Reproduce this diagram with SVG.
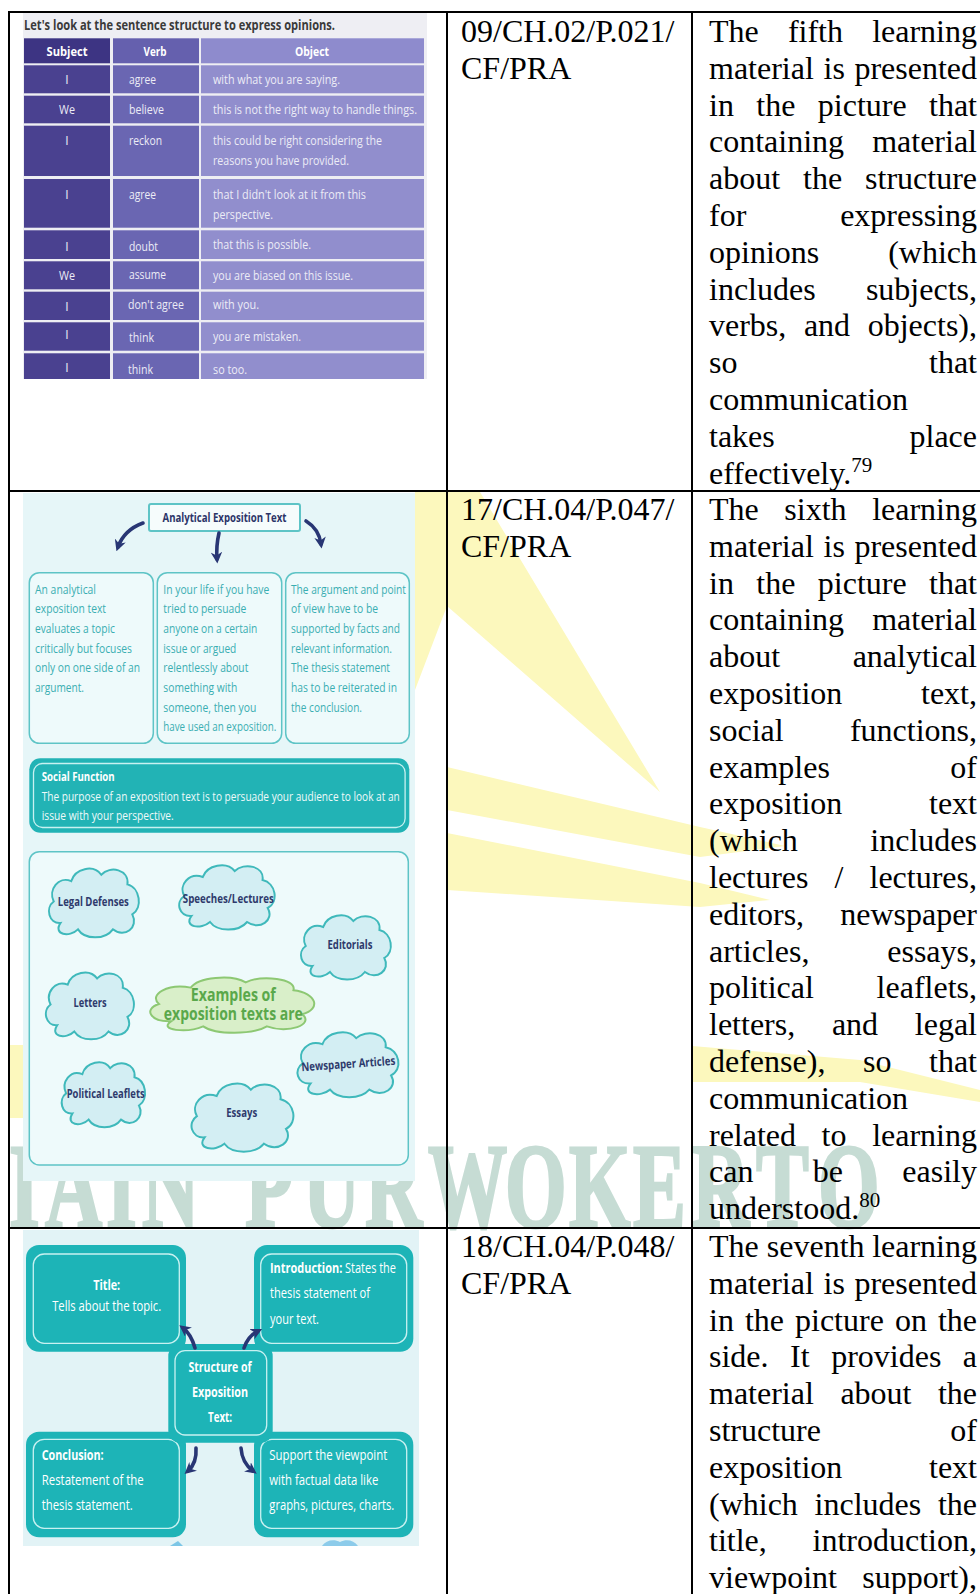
<svg xmlns="http://www.w3.org/2000/svg" xmlns:xlink="http://www.w3.org/1999/xlink" width="980" height="1594" viewBox="0 0 980 1594">
<defs>
<style>
.body{font-family:"Liberation Serif","Times New Roman",serif;font-size:32px;fill:#000}
.r{text-anchor:end}
.sup{font-size:21px}
.grid{stroke:#000;stroke-width:2;fill:none}
.sans{font-family:"Open Sans","Liberation Sans",Arial,sans-serif}
.ray{fill:#fcf8bd}
.wm{font-family:"Liberation Serif","Times New Roman",serif;font-weight:bold;font-size:120px;fill:#c6dcd4;stroke:#c6dcd4;stroke-width:3}
.p1t{font-size:14px;font-weight:bold;fill:#3a3a3a}
.p1h{font-size:13px;font-weight:bold;fill:#fff;text-anchor:middle}
.p1c{font-size:12px;fill:#ececf6}
.p1m{text-anchor:middle}
.sH{fill:#3d3483}.vH{fill:#6560ae}.oH{fill:#8e8bcd}
.sC{fill:#4a4190}.vC{fill:#6a66b2}.oC{fill:#918ecd}
.bx{fill:#eefafb;stroke:#5ec4c6;stroke-width:1.5}
.bxt{font-size:12px;fill:#3aaeb2}
.nav{fill:#2c3568}
.arr{fill:none;stroke:#283674;stroke-width:3.6;stroke-linecap:round}
.cl{fill:#d3eef3;stroke:#3fb9bb;stroke-width:2}
.clg{fill:#d9efc9;stroke:#8dc873;stroke-width:2}
.clt{font-size:12px;font-weight:bold;fill:#2e3a6c;text-anchor:middle}
.ext{font-size:17px;font-weight:bold;fill:#5aa84b;text-anchor:middle}
.tl{fill:#1db4b7}
.tin{fill:none;stroke:#c8f1f1;stroke-width:1.3}
.wt{font-size:14.5px;fill:#fff}
.b{font-weight:bold}
</style>
<path id="cloud" vector-effect="non-scaling-stroke" d="M16,56 C4,57 0,42 9,36 C3,25 14,12 27,17 C31,5 50,1 58,11 C67,2 87,6 85,20 C98,23 101,42 90,48 C97,60 82,71 70,62 C62,72 41,72 34,62 C25,70 8,67 16,56 Z"/>
<marker id="ah" viewBox="0 0 10 10" refX="6" refY="5" markerWidth="3.2" markerHeight="3.2" orient="auto">
<path d="M0,0 L10,5 L0,10 L3,5 Z" fill="#283674"/>
</marker>
</defs>

<rect width="980" height="1594" fill="#fff"/>

<g id="watermark">
<polygon class="ray" points="415,492 480,492 660,792 447,606 415,690"/>
<polygon class="ray" points="447,767 700,827 785,846 700,857 447,810"/>
<polygon class="ray" points="447,833 700,883 770,900 700,907 447,890"/>
<polygon class="ray" points="692,1046 860,1060 980,1090 980,1102 860,1082 692,1082"/>
<polygon class="ray" points="9,1045 23,1045 23,1118 9,1118"/>
<text class="wm" transform="scale(0.66,1)" y="1227" x="13.6 68.2 160.6 215.2 300 371.2 459.1 553 648.5 765.2 862.1 959.1 1048.5 1145.5 1239.4">IAIN PURWOKERTO</text>
</g>

<g id="grid">
<line class="grid" x1="8" y1="12" x2="980" y2="12"/>
<line class="grid" x1="9" y1="11" x2="9" y2="1594"/>
<line class="grid" x1="447" y1="11" x2="447" y2="1594"/>
<line class="grid" x1="692" y1="11" x2="692" y2="1594"/>
<line class="grid" x1="8" y1="491" x2="980" y2="491"/>
<line class="grid" x1="8" y1="1228" x2="980" y2="1228"/>
</g>

<g id="picture1" class="sans">
<rect x="23" y="13" width="404" height="366" fill="#eeeef3"/>
<text class="p1t" x="24" y="30" textLength="311" lengthAdjust="spacingAndGlyphs">Let's look at the sentence structure to express opinions.</text>
<rect class="sH" x="24" y="38.3" width="86" height="25"/>
<rect class="vH" x="113" y="38.3" width="86" height="25"/>
<rect class="oH" x="201" y="38.3" width="223" height="25"/>
<g>
<rect class="sC" x="24" y="65.3" width="86" height="28"/><rect class="vC" x="113" y="65.3" width="86" height="28"/><rect class="oC" x="201" y="65.3" width="223" height="28"/>
<rect class="sC" x="24" y="95.7" width="86" height="27.6"/><rect class="vC" x="113" y="95.7" width="86" height="27.6"/><rect class="oC" x="201" y="95.7" width="223" height="27.6"/>
<rect class="sC" x="24" y="125.7" width="86" height="50.3"/><rect class="vC" x="113" y="125.7" width="86" height="50.3"/><rect class="oC" x="201" y="125.7" width="223" height="50.3"/>
<rect class="sC" x="24" y="179" width="86" height="48.7"/><rect class="vC" x="113" y="179" width="86" height="48.7"/><rect class="oC" x="201" y="179" width="223" height="48.7"/>
<rect class="sC" x="24" y="230.3" width="86" height="28.7"/><rect class="vC" x="113" y="230.3" width="86" height="28.7"/><rect class="oC" x="201" y="230.3" width="223" height="28.7"/>
<rect class="sC" x="24" y="261.3" width="86" height="28"/><rect class="vC" x="113" y="261.3" width="86" height="28"/><rect class="oC" x="201" y="261.3" width="223" height="28"/>
<rect class="sC" x="24" y="291.7" width="86" height="28.3"/><rect class="vC" x="113" y="291.7" width="86" height="28.3"/><rect class="oC" x="201" y="291.7" width="223" height="28.3"/>
<rect class="sC" x="24" y="322.3" width="86" height="28.4"/><rect class="vC" x="113" y="322.3" width="86" height="28.4"/><rect class="oC" x="201" y="322.3" width="223" height="28.4"/>
<rect class="sC" x="24" y="353.3" width="86" height="25.7"/><rect class="vC" x="113" y="353.3" width="86" height="25.7"/><rect class="oC" x="201" y="353.3" width="223" height="25.7"/>
</g>
<text class="p1h" x="67" y="56" textLength="41" lengthAdjust="spacingAndGlyphs">Subject</text>
<text class="p1h" x="155" y="56" textLength="23" lengthAdjust="spacingAndGlyphs">Verb</text>
<text class="p1h" x="312" y="56" textLength="34" lengthAdjust="spacingAndGlyphs">Object</text>
<g class="p1c">
<text class="p1m" x="67" y="84">I</text>
<text x="129" y="84" textLength="27" lengthAdjust="spacingAndGlyphs">agree</text>
<text x="213" y="84" textLength="127" lengthAdjust="spacingAndGlyphs">with what you are saying.</text>
<text class="p1m" x="67" y="114" textLength="16" lengthAdjust="spacingAndGlyphs">We</text>
<text x="129" y="114" textLength="35" lengthAdjust="spacingAndGlyphs">believe</text>
<text x="213" y="114" textLength="204" lengthAdjust="spacingAndGlyphs">this is not the right way to handle things.</text>
<text class="p1m" x="67" y="145">I</text>
<text x="129" y="145" textLength="33" lengthAdjust="spacingAndGlyphs">reckon</text>
<text x="213" y="144.5" textLength="169" lengthAdjust="spacingAndGlyphs">this could be right considering the</text>
<text x="213" y="165" textLength="136" lengthAdjust="spacingAndGlyphs">reasons you have provided.</text>
<text class="p1m" x="67" y="199">I</text>
<text x="129" y="199" textLength="27" lengthAdjust="spacingAndGlyphs">agree</text>
<text x="213" y="199" textLength="153" lengthAdjust="spacingAndGlyphs">that I didn't look at it from this</text>
<text x="213" y="219" textLength="60" lengthAdjust="spacingAndGlyphs">perspective.</text>
<text class="p1m" x="67" y="251">I</text>
<text x="129" y="251" textLength="29" lengthAdjust="spacingAndGlyphs">doubt</text>
<text x="213" y="249" textLength="98" lengthAdjust="spacingAndGlyphs">that this is possible.</text>
<text class="p1m" x="67" y="280" textLength="16" lengthAdjust="spacingAndGlyphs">We</text>
<text x="129" y="278.5" textLength="37" lengthAdjust="spacingAndGlyphs">assume</text>
<text x="213" y="279.5" textLength="140" lengthAdjust="spacingAndGlyphs">you are biased on this issue.</text>
<text class="p1m" x="67" y="311">I</text>
<text x="128" y="309" textLength="56" lengthAdjust="spacingAndGlyphs">don't agree</text>
<text x="213" y="308.5" textLength="46" lengthAdjust="spacingAndGlyphs">with you.</text>
<text class="p1m" x="67" y="339">I</text>
<text x="129" y="342" textLength="25" lengthAdjust="spacingAndGlyphs">think</text>
<text x="213" y="341" textLength="88" lengthAdjust="spacingAndGlyphs">you are mistaken.</text>
<text class="p1m" x="67" y="372">I</text>
<text x="128" y="374" textLength="25" lengthAdjust="spacingAndGlyphs">think</text>
<text x="213" y="374" textLength="34" lengthAdjust="spacingAndGlyphs">so too.</text>
</g>
</g>

<g id="picture2" class="sans">
<rect x="23" y="493" width="392" height="688" fill="#e6f6f8"/>
<g id="p2-title">
<rect x="149" y="504" width="151" height="27" fill="#f6fcfc" stroke="#5ec4c6" stroke-width="2" rx="2"/>
<text class="nav b" x="224.5" y="522" font-size="12.5" text-anchor="middle" textLength="124" lengthAdjust="spacingAndGlyphs">Analytical Exposition Text</text>
</g>
<g id="p2-box1">
<rect class="bx" x="29.3" y="572.7" width="124" height="170.6" rx="10"/>
<g class="bxt">
<text x="35" y="593.5" textLength="61" lengthAdjust="spacingAndGlyphs">An analytical</text>
<text x="35" y="613.2" textLength="71" lengthAdjust="spacingAndGlyphs">exposition text</text>
<text x="35" y="633" textLength="80" lengthAdjust="spacingAndGlyphs">evaluates a topic</text>
<text x="35" y="652.7" textLength="97" lengthAdjust="spacingAndGlyphs">critically but focuses</text>
<text x="35" y="672.4" textLength="105" lengthAdjust="spacingAndGlyphs">only on one side of an</text>
<text x="35" y="692" textLength="49" lengthAdjust="spacingAndGlyphs">argument.</text>
</g>
</g>
<g id="p2-box2">
<rect class="bx" x="157.3" y="572.7" width="124.4" height="170.6" rx="10"/>
<g class="bxt">
<text x="163.3" y="593.5" textLength="106" lengthAdjust="spacingAndGlyphs">In your life if you have</text>
<text x="163.3" y="613.2" textLength="83" lengthAdjust="spacingAndGlyphs">tried to persuade</text>
<text x="163.3" y="633" textLength="94" lengthAdjust="spacingAndGlyphs">anyone on a certain</text>
<text x="163.3" y="652.7" textLength="73" lengthAdjust="spacingAndGlyphs">issue or argued</text>
<text x="163.3" y="672.4" textLength="85" lengthAdjust="spacingAndGlyphs">relentlessly about</text>
<text x="163.3" y="692" textLength="74" lengthAdjust="spacingAndGlyphs">something with</text>
<text x="163.3" y="711.7" textLength="93" lengthAdjust="spacingAndGlyphs">someone, then you</text>
<text x="163.3" y="731.4" textLength="113" lengthAdjust="spacingAndGlyphs">have used an exposition.</text>
</g>
</g>
<g id="p2-box3">
<rect class="bx" x="285.7" y="572.7" width="123.6" height="170.6" rx="10"/>
<g class="bxt">
<text x="291" y="593.5" textLength="115" lengthAdjust="spacingAndGlyphs">The argument and point</text>
<text x="291" y="613.2" textLength="87" lengthAdjust="spacingAndGlyphs">of view have to be</text>
<text x="291" y="633" textLength="109" lengthAdjust="spacingAndGlyphs">supported by facts and</text>
<text x="291" y="652.7" textLength="101" lengthAdjust="spacingAndGlyphs">relevant information.</text>
<text x="291" y="672.4" textLength="99" lengthAdjust="spacingAndGlyphs">The thesis statement</text>
<text x="291" y="692" textLength="106" lengthAdjust="spacingAndGlyphs">has to be reiterated in</text>
<text x="291" y="711.7" textLength="71" lengthAdjust="spacingAndGlyphs">the conclusion.</text>
</g>
</g>
<g id="p2-social">
<rect x="29.3" y="758.3" width="380" height="74.4" rx="11" fill="#22b3b5"/>
<rect class="tin" x="33.5" y="763.5" width="371.6" height="64" rx="9"/>
<text class="b" x="41.7" y="781" font-size="12.5" fill="#fff" textLength="73" lengthAdjust="spacingAndGlyphs">Social Function</text>
<text x="41.7" y="800.5" font-size="12" fill="#eefafa" textLength="358" lengthAdjust="spacingAndGlyphs">The purpose of an exposition text is to persuade your audience to look at an</text>
<text x="41.7" y="820" font-size="12" fill="#eefafa" textLength="132" lengthAdjust="spacingAndGlyphs">issue with your perspective.</text>
</g>
<g id="p2-examples">
<rect class="bx" x="29.3" y="851.7" width="379" height="313.3" rx="10"/>
<g id="cloud-legal"><use xlink:href="#cloud" class="cl" transform="translate(45,863) scale(0.97,1.07)"/><text class="clt" x="93.3" y="905.5" textLength="71" lengthAdjust="spacingAndGlyphs">Legal Defenses</text></g>
<g id="cloud-speeches"><use xlink:href="#cloud" class="cl" transform="translate(175,860) scale(1.03,1.0)"/><text class="clt" x="228.3" y="903" textLength="91" lengthAdjust="spacingAndGlyphs">Speeches/Lectures</text></g>
<g id="cloud-editorials"><use xlink:href="#cloud" class="cl" transform="translate(297,910) scale(0.97,1.0)"/><text class="clt" x="350" y="949" textLength="45" lengthAdjust="spacingAndGlyphs">Editorials</text></g>
<g id="cloud-letters"><use xlink:href="#cloud" class="cl" transform="translate(42,967) scale(0.95,1.04)"/><text class="clt" x="90" y="1007" textLength="33" lengthAdjust="spacingAndGlyphs">Letters</text></g>
<g id="cloud-examples"><use xlink:href="#cloud" class="clg" transform="translate(143,973) scale(1.77,0.86)"/>
<text class="ext" x="233.3" y="1001" textLength="85" lengthAdjust="spacingAndGlyphs">Examples of</text>
<text class="ext" x="233.3" y="1020" textLength="139" lengthAdjust="spacingAndGlyphs">exposition texts are</text></g>
<g id="cloud-newspaper"><use xlink:href="#cloud" class="cl" transform="translate(293,1027) scale(1.09,1.01)"/><text class="clt" x="348.3" y="1068" transform="rotate(-4 348 1064)" textLength="94" lengthAdjust="spacingAndGlyphs">Newspaper Articles</text></g>
<g id="cloud-political"><use xlink:href="#cloud" class="cl" transform="translate(58,1057) scale(0.90,1.01)"/><text class="clt" x="105.7" y="1098" textLength="78" lengthAdjust="spacingAndGlyphs">Political Leaflets</text></g>
<g id="cloud-essays"><use xlink:href="#cloud" class="cl" transform="translate(187,1078) scale(1.10,1.06)"/><text class="clt" x="241.7" y="1117" textLength="31" lengthAdjust="spacingAndGlyphs">Essays</text></g>
</g>
</g>

<g id="picture3" class="sans">
<rect x="23" y="1230" width="396" height="316" fill="#e2f3f6"/>
<path d="M170,1546 L178,1541 L183,1546 Z" fill="#7cc6e6"/>
<path d="M322,1546 C326,1540 334,1539 340,1542 C346,1539 354,1540 358,1546 Z" fill="#8ccbea"/>
<g id="p3-title">
<rect class="tl" x="26" y="1245" width="160" height="106.7" rx="13"/>
<rect class="tin" x="33.3" y="1254" width="146" height="89.3" rx="11"/>
<text class="wt b" x="106.7" y="1290" text-anchor="middle" textLength="27" lengthAdjust="spacingAndGlyphs">Title:</text>
<text class="wt" x="106.7" y="1311" text-anchor="middle" textLength="109" lengthAdjust="spacingAndGlyphs">Tells about the topic.</text>
</g>
<g id="p3-intro">
<rect class="tl" x="254" y="1245" width="159.3" height="106.7" rx="13"/>
<rect class="tin" x="260.7" y="1254" width="146" height="89.3" rx="11"/>
<text class="wt" x="270" y="1273" textLength="126" lengthAdjust="spacingAndGlyphs"><tspan class="b">Introduction:</tspan> States the</text>
<text class="wt" x="270" y="1298" textLength="100" lengthAdjust="spacingAndGlyphs">thesis statement of</text>
<text class="wt" x="270" y="1324" textLength="49" lengthAdjust="spacingAndGlyphs">your text.</text>
</g>
<g id="p3-conclusion">
<rect class="tl" x="26" y="1431.7" width="160" height="105.6" rx="13"/>
<rect class="tin" x="33.3" y="1439.3" width="146" height="89" rx="11"/>
<text class="wt b" x="41.7" y="1460" textLength="62" lengthAdjust="spacingAndGlyphs">Conclusion:</text>
<text class="wt" x="41.7" y="1485" textLength="102" lengthAdjust="spacingAndGlyphs">Restatement of the</text>
<text class="wt" x="41.7" y="1510" textLength="91" lengthAdjust="spacingAndGlyphs">thesis statement.</text>
</g>
<g id="p3-support">
<rect class="tl" x="254" y="1431.7" width="159.3" height="105.6" rx="13"/>
<rect class="tin" x="260.7" y="1439.3" width="146" height="89" rx="11"/>
<text class="wt" x="269.3" y="1460" textLength="118" lengthAdjust="spacingAndGlyphs">Support the viewpoint</text>
<text class="wt" x="269.3" y="1485" textLength="109" lengthAdjust="spacingAndGlyphs">with factual data like</text>
<text class="wt" x="269.3" y="1510" textLength="125" lengthAdjust="spacingAndGlyphs">graphs, pictures, charts.</text>
</g>
<g id="p3-center">
<rect class="tl" x="168.3" y="1344" width="104.4" height="98.7" rx="12"/>
<rect class="tin" x="175" y="1350.7" width="91.7" height="84.3" rx="10"/>
<text class="wt b" x="220" y="1372" text-anchor="middle" textLength="63" lengthAdjust="spacingAndGlyphs">Structure of</text>
<text class="wt b" x="220" y="1397" text-anchor="middle" textLength="56" lengthAdjust="spacingAndGlyphs">Exposition</text>
<text class="wt b" x="220" y="1422" text-anchor="middle" textLength="24" lengthAdjust="spacingAndGlyphs">Text:</text>
</g>
</g>

<g id="connectors">
<path class="arr" marker-end="url(#ah)" d="M143,523 Q124,530 118,547"/>
<path class="arr" marker-end="url(#ah)" d="M219,533 Q216,546 217,559"/>
<path class="arr" marker-end="url(#ah)" d="M306,521 Q319,529 321,544"/>
<path class="arr" marker-end="url(#ah)" d="M195,1348 Q191,1334 183,1328"/>
<path class="arr" marker-end="url(#ah)" d="M244,1348 Q248,1336 258,1331"/>
<path class="arr" marker-end="url(#ah)" d="M196,1448 Q197,1463 188,1471"/>
<path class="arr" marker-end="url(#ah)" d="M241,1448 Q242,1463 253,1471"/>
</g>

<g id="codes" class="body">
<text x="461" y="42">09/CH.02/P.021/</text>
<text x="461" y="78.8">CF/PRA</text>
<text x="461" y="520">17/CH.04/P.047/</text>
<text x="461" y="556.8">CF/PRA</text>
<text x="461" y="1257">18/CH.04/P.048/</text>
<text x="461" y="1293.8">CF/PRA</text>
</g>

<g id="desc1" class="body">
<text x="709" y="42">The</text><text x="787.9" y="42">fifth</text><text class="r" x="977" y="42">learning</text>
<text x="709" y="78.8">material</text><text x="823.5" y="78.8">is</text><text class="r" x="977" y="78.8">presented</text>
<text x="709" y="115.6">in</text><text x="756.3" y="115.6">the</text><text x="817.8" y="115.6">picture</text><text class="r" x="977" y="115.6">that</text>
<text x="709" y="152.4">containing</text><text class="r" x="977" y="152.4">material</text>
<text x="709" y="189.2">about</text><text x="803" y="189.2">the</text><text class="r" x="977" y="189.2">structure</text>
<text x="709" y="226">for</text><text class="r" x="977" y="226">expressing</text>
<text x="709" y="262.8">opinions</text><text class="r" x="977" y="262.8">(which</text>
<text x="709" y="299.6">includes</text><text class="r" x="977" y="299.6">subjects,</text>
<text x="709" y="336.4">verbs,</text><text x="803.9" y="336.4">and</text><text class="r" x="977" y="336.4">objects),</text>
<text x="709" y="373.2">so</text><text class="r" x="977" y="373.2">that</text>
<text x="709" y="410">communication</text>
<text x="709" y="446.8">takes</text><text class="r" x="977" y="446.8">place</text>
<text x="709" y="483.6">effectively.<tspan class="sup" dy="-12">79</tspan></text>
</g>

<g id="desc2" class="body">
<text x="709" y="520">The</text><text x="784.3" y="520">sixth</text><text class="r" x="977" y="520">learning</text>
<text x="709" y="556.8">material</text><text x="823.5" y="556.8">is</text><text class="r" x="977" y="556.8">presented</text>
<text x="709" y="593.6">in</text><text x="756.3" y="593.6">the</text><text x="817.8" y="593.6">picture</text><text class="r" x="977" y="593.6">that</text>
<text x="709" y="630.4">containing</text><text class="r" x="977" y="630.4">material</text>
<text x="709" y="667.2">about</text><text class="r" x="977" y="667.2">analytical</text>
<text x="709" y="704">exposition</text><text class="r" x="977" y="704">text,</text>
<text x="709" y="740.8">social</text><text class="r" x="977" y="740.8">functions,</text>
<text x="709" y="777.6">examples</text><text class="r" x="977" y="777.6">of</text>
<text x="709" y="814.4">exposition</text><text class="r" x="977" y="814.4">text</text>
<text x="709" y="851.2">(which</text><text class="r" x="977" y="851.2">includes</text>
<text x="709" y="888">lectures</text><text x="834.5" y="888">/</text><text class="r" x="977" y="888">lectures,</text>
<text x="709" y="924.8">editors,</text><text class="r" x="977" y="924.8">newspaper</text>
<text x="709" y="961.6">articles,</text><text class="r" x="977" y="961.6">essays,</text>
<text x="709" y="998.4">political</text><text class="r" x="977" y="998.4">leaflets,</text>
<text x="709" y="1035.2">letters,</text><text x="831.9" y="1035.2">and</text><text class="r" x="977" y="1035.2">legal</text>
<text x="709" y="1072">defense),</text><text x="863" y="1072">so</text><text class="r" x="977" y="1072">that</text>
<text x="709" y="1108.8">communication</text>
<text x="709" y="1145.6">related</text><text x="821.6" y="1145.6">to</text><text class="r" x="977" y="1145.6">learning</text>
<text x="709" y="1182.4">can</text><text x="812.8" y="1182.4">be</text><text class="r" x="977" y="1182.4">easily</text>
<text x="709" y="1219.2">understood.<tspan class="sup" dy="-12">80</tspan></text>
</g>

<g id="desc3" class="body">
<text x="709" y="1257">The</text><text x="766.8" y="1257">seventh</text><text class="r" x="977" y="1257">learning</text>
<text x="709" y="1293.8">material</text><text x="823.5" y="1293.8">is</text><text class="r" x="977" y="1293.8">presented</text>
<text x="709" y="1330.6">in</text><text x="744.9" y="1330.6">the</text><text x="795" y="1330.6">picture</text><text x="894.9" y="1330.6">on</text><text class="r" x="977" y="1330.6">the</text>
<text x="709" y="1367.4">side.</text><text x="790.1" y="1367.4">It</text><text x="831.2" y="1367.4">provides</text><text class="r" x="977" y="1367.4">a</text>
<text x="709" y="1404.2">material</text><text x="840.4" y="1404.2">about</text><text class="r" x="977" y="1404.2">the</text>
<text x="709" y="1441">structure</text><text class="r" x="977" y="1441">of</text>
<text x="709" y="1477.8">exposition</text><text class="r" x="977" y="1477.8">text</text>
<text x="709" y="1514.6">(which</text><text x="814.6" y="1514.6">includes</text><text class="r" x="977" y="1514.6">the</text>
<text x="709" y="1551.4">title,</text><text class="r" x="977" y="1551.4">introduction,</text>
<text x="709" y="1588.2">viewpoint</text><text class="r" x="977" y="1588.2">support),</text>
</g>
</svg>
